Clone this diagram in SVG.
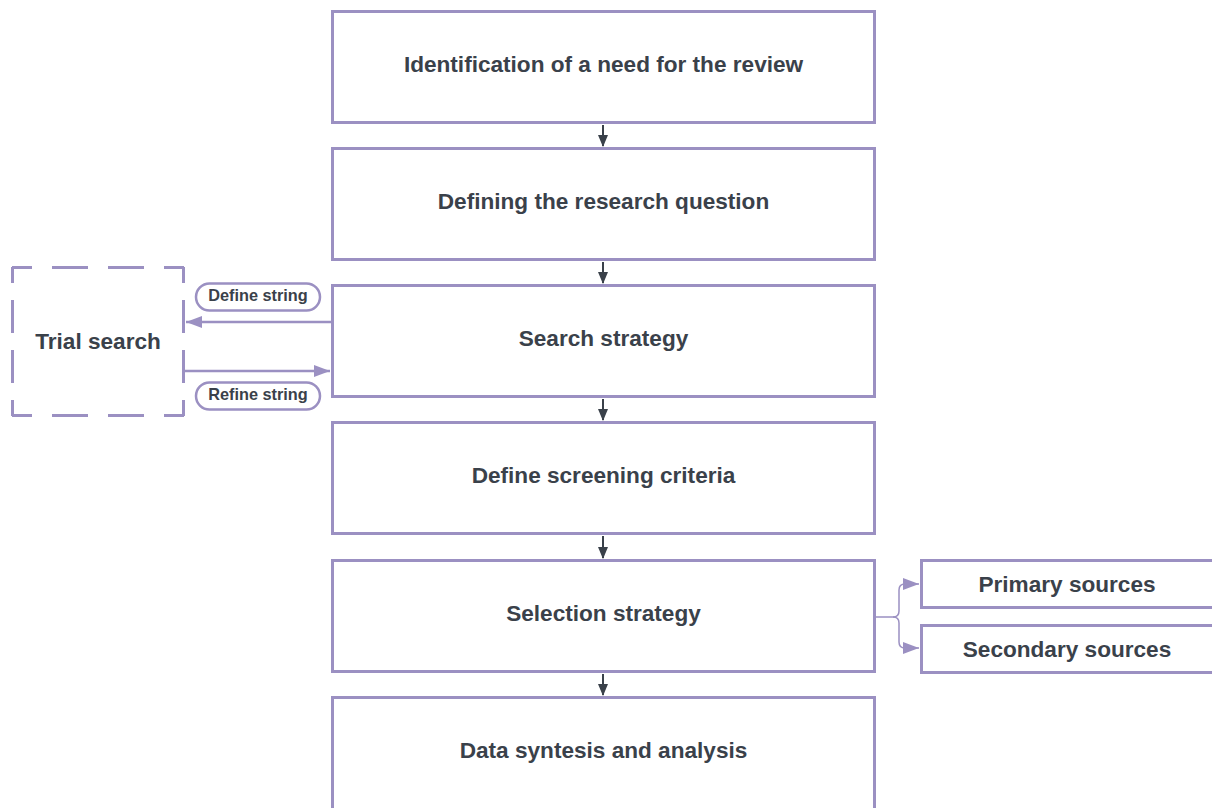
<svg xmlns="http://www.w3.org/2000/svg" width="1212" height="808" viewBox="0 0 1212 808">
<defs>
<style>
.box{fill:#fff;stroke:#9b90c2;stroke-width:3}
.pill{fill:#fff;stroke:#9b90c2;stroke-width:2.5}
.t{font-family:"Liberation Sans",Arial,sans-serif;font-weight:bold;font-size:22.6px;fill:#3a414a;text-anchor:middle}
.s{font-family:"Liberation Sans",Arial,sans-serif;font-weight:bold;font-size:16.3px;fill:#3a414a;text-anchor:middle}
.dk{stroke:#3a414a;stroke-width:2;fill:none}
.pl{stroke:#9b90c2;stroke-width:2.5;fill:none}
.th{stroke:#9b90c2;stroke-width:1.5;fill:none}
.dash{stroke:#9b90c2;stroke-width:3;fill:none}
</style>
<marker id="ad" markerWidth="12" markerHeight="16" refX="11" refY="6" orient="auto" markerUnits="userSpaceOnUse" viewBox="0 0 12 12"><path d="M0,1 L12,6 L0,11 Z" fill="#3a414a"/></marker>
<marker id="ap" markerWidth="16" markerHeight="12" refX="16" refY="6" orient="auto" markerUnits="userSpaceOnUse" viewBox="0 0 16 12"><path d="M0,0 L16,6 L0,12 Z" fill="#9b90c2"/></marker>
</defs>

<g id="connectors">
<path class="dk" d="M603,125 V146" marker-end="url(#ad)"/>
<path class="dk" d="M603,262 V283" marker-end="url(#ad)"/>
<path class="dk" d="M603,399 V420" marker-end="url(#ad)"/>
<path class="dk" d="M603,536 V558" marker-end="url(#ad)"/>
<path class="dk" d="M603,674 V695" marker-end="url(#ad)"/>
<path class="pl" d="M331,322 H186" marker-end="url(#ap)"/>
<path class="pl" d="M185,371 H330" marker-end="url(#ap)"/>
<path class="th" d="M876,617 H893 Q899,617 899,611 V590 Q899,584 905,584 H919" marker-end="url(#ap)"/>
<path class="th" d="M893,617 Q899,617 899,623 V642 Q899,648 905,648 H919" marker-end="url(#ap)"/>
</g>

<g id="n1"><rect class="box" x="332.5" y="11.5" width="542" height="111"/><text class="t" x="603.5" y="72">Identification of a need for the review</text></g>
<g id="n2"><rect class="box" x="332.5" y="148.5" width="542" height="111"/><text class="t" x="603.5" y="209">Defining the research question</text></g>
<g id="n3"><rect class="box" x="332.5" y="285.5" width="542" height="111"/><text class="t" x="603.5" y="346">Search strategy</text></g>
<g id="n4"><rect class="box" x="332.5" y="422.5" width="542" height="111"/><text class="t" x="603.5" y="483">Define screening criteria</text></g>
<g id="n5"><rect class="box" x="332.5" y="560.5" width="542" height="111"/><text class="t" x="603.5" y="621">Selection strategy</text></g>
<g id="n6"><rect class="box" x="332.5" y="697.5" width="542" height="130"/><text class="t" x="603.5" y="758">Data syntesis and analysis</text></g>

<g id="trial">
<rect x="12" y="267" width="172" height="149" fill="#fff"/>
<path class="dash" d="M12,267.5 H184" stroke-dasharray="36 20" stroke-dashoffset="16"/>
<path class="dash" d="M12,415.5 H184" stroke-dasharray="36 20" stroke-dashoffset="16"/>
<path class="dash" d="M12.5,267 V416" stroke-dasharray="33 17" stroke-dashoffset="17"/>
<path class="dash" d="M183.5,267 V416" stroke-dasharray="33 17" stroke-dashoffset="17"/>
<text class="t" x="98" y="349">Trial search</text>
</g>

<g id="define"><rect class="pill" x="196" y="283.5" width="124" height="27" rx="13.5"/><text class="s" x="258" y="301">Define string</text></g>
<g id="refine"><rect class="pill" x="196" y="382.5" width="124" height="27" rx="13.5"/><text class="s" x="258" y="400">Refine string</text></g>

<g id="primary"><rect class="box" x="921.5" y="560.5" width="292" height="47"/><text class="t" x="1067" y="592">Primary sources</text></g>
<g id="secondary"><rect class="box" x="921.5" y="625.5" width="292" height="47"/><text class="t" x="1067" y="657">Secondary sources</text></g>
</svg>
